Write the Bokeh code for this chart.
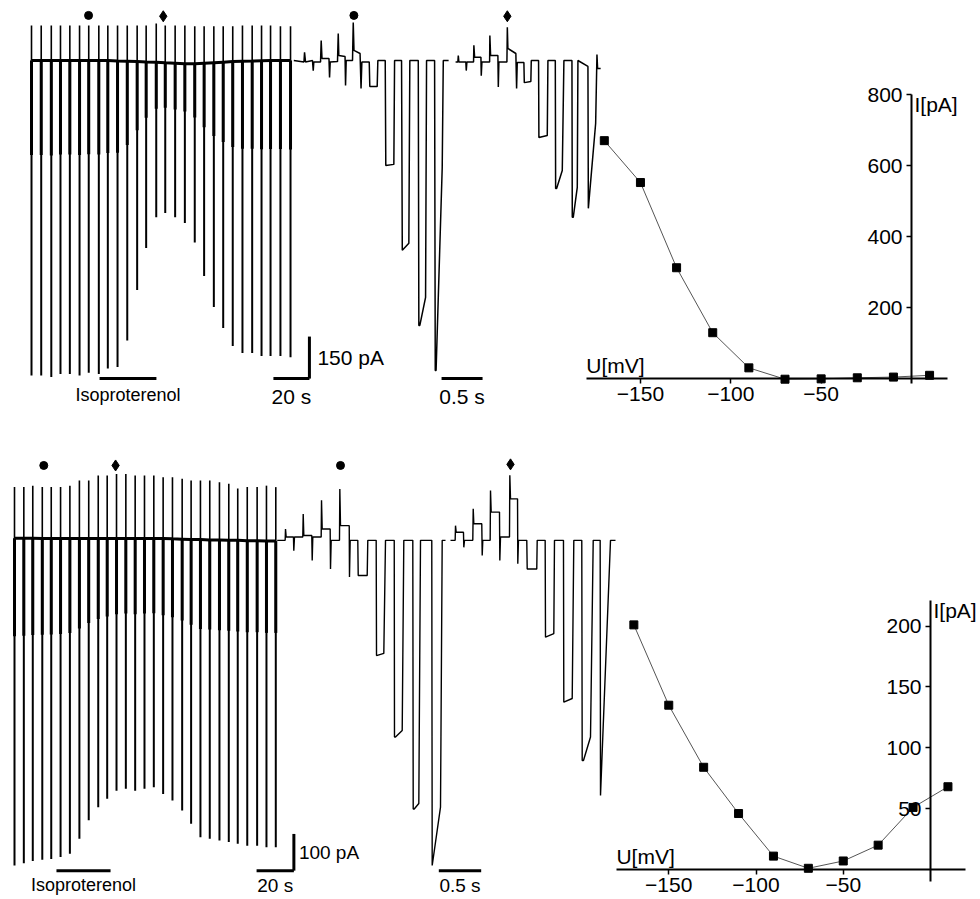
from bokeh.plotting import figure
from bokeh.models import Range1d, LinearAxis, FixedTicker, Label
from bokeh.embed import file_html
from bokeh.resources import INLINE

# ---------------- data ----------------
# Top row: overview of the slow recording (time in s, current in pA)
ov1_t = [0, 5.4, 11.0, 16.1, 21.3, 26.7, 31.8, 37.4, 42.4, 47.8, 53.2, 58.7, 63.7, 69.3,
         74.3, 79.8, 85.2, 90.7, 95.9, 101.3, 106.5, 111.8, 117.2, 122.6, 127.8, 132.8, 138.3, 143.9]
ov1_low = [-1125, -1125, -1130, -1120, -1120, -1125, -1115, -1120, -1100, -1095, -1000, -820, -670, -560,
           -545, -560, -580, -650, -770, -880, -955, -1020, -1045, -1045, -1055, -1055, -1055, -1060]
ov1_high = [125, 125, 125, 125, 125, 125, 125, 125, 125, 125, 125, 125, 125, 132,
            125, 125, 125, 122, 122, 122, 122, 122, 125, 125, 125, 125, 122, 122]
ov1_base = [0, 0, 0, 0, 0, 0, 0, 0, 0, -2, -3, -4, -5, -6,
            -8, -10, -12, -12, -10, -8, -6, -4, -3, -2, -1, 0, 0, 0]

# Top row: two single sweeps on an expanded time base (time in ms, current in pA)
zm1a_t = [0, 124, 131, 143, 228, 237, 244, 326, 334, 344, 429, 436, 444, 533, 542, 549, 625, 631, 639,
          716, 725, 734, 808, 820, 830, 920, 927, 1017, 1025, 1115, 1122, 1220, 1229, 1314, 1323, 1403,
          1415, 1518, 1525, 1537, 1607, 1619, 1717, 1725, 1735, 1810, 1823, 1888]
zm1a_i = [0, -5, 29, -5, 0, -36, -5, -5, 71, 7, 7, -61, -5, -4, 96, 18, 14, -89, 0,
          0, 136, 36, 25, -100, -5, -5, -93, -93, 0, 0, -375, -371, 0, 0, -678, -653,
          0, 0, -946, -946, -846, 0, 0, -1107, -1107, -382, 0, 0]
zm1b_t = [1973, 2001, 2006, 2013, 2098, 2103, 2111, 2192, 2196, 2205, 2282, 2286, 2294, 2388, 2391, 2400,
          2489, 2494, 2501, 2599, 2604, 2611, 2708, 2717, 2725, 2806, 2811, 2891, 2896, 2985, 2989, 3091,
          3099, 3189, 3193, 3205, 3274, 3294, 3392, 3396, 3408, 3457, 3465, 3587, 3592, 3681, 3697, 3705, 3742]
zm1b_i = [-5, -5, 18, -5, -5, -36, -5, -5, 54, 12, 12, -54, -5, -5, 89, 18,
          18, -95, -5, -5, 119, 43, 25, -100, -7, -7, -79, -75, 0, 0, -275, -268,
          0, 0, -457, -457, -393, 0, 0, -560, -560, -453, 0, -21, -528, -225, 21, -29, -29]

# Bottom row: overview
ov2_t = [0, 5.0, 9.8, 14.9, 19.7, 24.7, 29.7, 34.8, 39.8, 44.9, 49.7, 54.7, 59.7, 64.7, 69.7,
         74.7, 79.7, 84.7, 89.9, 94.7, 99.7, 104.7, 109.9, 114.9, 119.7, 124.8, 130.1, 135.1, 140.1]
ov2_low = [-891, -885, -879, -875, -873, -868, -859, -818, -768, -732, -709, -687, -682, -687, -682,
           -678, -696, -714, -741, -777, -814, -818, -823, -827, -832, -837, -837, -841, -841]
ov2_high = [140, 140, 144, 140, 140, 140, 144, 158, 158, 172, 172, 176, 176, 172, 172,
            172, 167, 167, 163, 158, 158, 158, 153, 149, 136, 140, 140, 144, 140]
ov2_base = [1, 1, 1, 0, 0, 0, 0, 0, 0, 0, 0, 0, 0, 0, 0,
            0, 0, -1, -2, -3, -3, -4, -4, -5, -5, -6, -6, -7, -7]

# Bottom row: expanded sweeps
zm2a_t = [0, 94, 98, 106, 192, 196, 204, 302, 307, 314, 408, 413, 420, 519, 523, 531, 625, 629, 637,
          735, 739, 747, 850, 853, 861, 951, 956, 1062, 1069, 1168, 1172, 1258, 1278, 1381, 1384, 1396,
          1475, 1494, 1600, 1605, 1617, 1671, 1691, 1824, 1829, 1927, 1947, 1986]
zm2a_i = [-5, -5, 26, 4, 4, -33, 4, 4, 67, 8, 8, -60, 4, 4, 104, 26, 26, -83, -5,
          -5, 135, 35, 35, -105, -5, -5, -101, -101, -5, -5, -319, -313, -5, -5, -541, -541,
          -523, -5, -5, -737, -737, -722, -5, -5, -891, -732, -5, -5]
zm2b_t = [2045, 2100, 2104, 2112, 2198, 2202, 2210, 2308, 2313, 2320, 2414, 2419, 2426, 2513, 2517, 2525,
          2623, 2627, 2635, 2741, 2745, 2753, 2836, 2839, 2847, 2945, 2950, 3063, 3068, 3162, 3166, 3264,
          3272, 3378, 3382, 3481, 3500, 3594, 3599, 3614, 3697, 3729, 3811, 3815, 3933, 3992]
zm2b_i = [-5, -5, 35, 17, 17, -24, -5, -5, 81, 40, 40, -46, -5, -5, 131, 72,
          72, -60, 4, 4, 172, 108, 108, -69, -5, -5, -83, -83, -5, -5, -269, -259,
          -5, -5, -446, -436, -5, -5, -605, -605, -541, -5, -5, -700, -5, -5]

# Markers above the sweeps that are shown expanded (circle / diamond)
ov1_mark_t = [31.7, 73.2]; ov1_mark_i = [161, 158]
zm1_mark_t = [733, 2604]; zm1_mark_i = [161, 158]
ov2_mark_t = [15.7, 54.2]; ov2_mark_i = [199, 199]
zm2_mark_t = [747, 2753]; zm2_mark_i = [199, 202]

# I-V relations
iv_v = [-170, -150, -130, -110, -90, -70, -50, -30, -10, 10]
iv1_i = [670, 552, 312, 129, 30, -2, -1, 2, 4, 9]
iv2_i = [201, 135, 84, 46, 11, 1, 7, 20, 51, 68]
iv_xticks = [-150, -100, -50]
iv1_yticks = [200, 400, 600, 800]
iv2_yticks = [50, 100, 150, 200]

# Scale bars and drug application
iso1 = (37.8, 69.4)
iso2 = (22.5, 51.5)
bar_time_s = 20
bar_zoom_ms = 500
bar_cur1 = 150
bar_cur2 = 100

# ---------------- layout ----------------
W, H = 980, 899
FONT = "Liberation Sans"


def x_range(px_at_zero, px_per_unit):
    start = -px_at_zero / px_per_unit
    return Range1d(start=start, end=start + W / px_per_unit)


def y_range(py_at_zero, px_per_unit):
    end = py_at_zero / px_per_unit
    return Range1d(start=end - H / px_per_unit, end=end)


p = figure(width=W, height=H, x_range=Range1d(0, W), y_range=Range1d(0, H),
           x_axis_type=None, y_axis_type=None, output_backend="svg",
           toolbar_location=None, min_border=0, outline_line_color=None)
p.background_fill_color = "white"
p.border_fill_color = "white"

p.extra_x_ranges = {
    "ov1": x_range(31, 1.8), "zm1": x_range(293.3, 0.082), "iv1": x_range(911, 1.807),
    "ov2": x_range(14, 1.865), "zm2": x_range(276.7, 1 / 11.8), "iv2": x_range(930, 1.745),
}
p.extra_y_ranges = {
    "tr1": y_range(60, 0.28), "iv1": y_range(378, 0.355),
    "tr2": y_range(538, 0.367), "iv2": y_range(869, 1.217),
}


def overview(t, low, high, base, xr, yr):
    kw = dict(x_range_name=xr, y_range_name=yr, line_color="black")
    p.segment(t, base, t, high, line_width=1.6, **kw)
    p.segment(t, low, t, base, line_width=2.0, **kw)
    wedge = [b + 0.3 * (l - b) for b, l in zip(base, low)]
    p.segment(t, base, t, wedge, line_width=3.0, **kw)
    p.line(t, base, line_width=3, **kw)


def label(xr, yr, x, y, text, size, align="center", baseline="top", xo=0, yo=0):
    p.add_layout(Label(x=x, y=y, x_range_name=xr, y_range_name=yr, text=text,
                       text_font=FONT, text_font_size=size, text_color="black",
                       text_align=align, text_baseline=baseline, x_offset=xo, y_offset=yo))


# --- top row traces
overview(ov1_t, ov1_low, ov1_high, ov1_base, "ov1", "tr1")
p.line(zm1a_t, zm1a_i, x_range_name="zm1", y_range_name="tr1", line_color="black", line_width=1.5)
p.line(zm1b_t, zm1b_i, x_range_name="zm1", y_range_name="tr1", line_color="black", line_width=1.5)
for xr, mt, mi in (("ov1", ov1_mark_t, ov1_mark_i), ("zm1", zm1_mark_t, zm1_mark_i)):
    p.scatter(mt[:1], mi[:1], marker="circle", size=8, color="black", x_range_name=xr, y_range_name="tr1")
    p.scatter(mt[1:], mi[1:], marker="diamond", size=11, color="black", x_range_name=xr, y_range_name="tr1")

y_bar1 = -1136
p.segment([iso1[0]], [y_bar1], [iso1[1]], [y_bar1], x_range_name="ov1", y_range_name="tr1",
          line_color="black", line_width=3)
label("ov1", "tr1", (iso1[0] + iso1[1]) / 2, y_bar1, "Isoproterenol", "18px", yo=-6)
sb1_x = 154.4
p.segment([sb1_x - bar_time_s, sb1_x], [y_bar1, y_bar1], [sb1_x, sb1_x], [y_bar1, y_bar1 + bar_cur1],
          x_range_name="ov1", y_range_name="tr1", line_color="black", line_width=3)
label("ov1", "tr1", sb1_x - bar_time_s / 2, y_bar1, "20 s", "21px", yo=-6)
label("ov1", "tr1", sb1_x, y_bar1 + bar_cur1 / 2, "150 pA", "21px", align="left", baseline="middle", xo=8)
zb1_x = 1802
p.segment([zb1_x], [y_bar1], [zb1_x + bar_zoom_ms], [y_bar1], x_range_name="zm1", y_range_name="tr1",
          line_color="black", line_width=3)
label("zm1", "tr1", zb1_x + bar_zoom_ms / 2, y_bar1, "0.5 s", "21px", yo=-6)

# --- bottom row traces
overview(ov2_t, ov2_low, ov2_high, ov2_base, "ov2", "tr2")
p.line(zm2a_t, zm2a_i, x_range_name="zm2", y_range_name="tr2", line_color="black", line_width=1.4)
p.line(zm2b_t, zm2b_i, x_range_name="zm2", y_range_name="tr2", line_color="black", line_width=1.4)
for xr, mt, mi in (("ov2", ov2_mark_t, ov2_mark_i), ("zm2", zm2_mark_t, zm2_mark_i)):
    p.scatter(mt[:1], mi[:1], marker="circle", size=8, color="black", x_range_name=xr, y_range_name="tr2")
    p.scatter(mt[1:], mi[1:], marker="diamond", size=11, color="black", x_range_name=xr, y_range_name="tr2")

y_bar2 = -905
p.segment([iso2[0]], [y_bar2], [iso2[1]], [y_bar2], x_range_name="ov2", y_range_name="tr2",
          line_color="black", line_width=3)
label("ov2", "tr2", (iso2[0] + iso2[1]) / 2, y_bar2, "Isoproterenol", "18px", yo=-4)
sb2_x = 149.8
p.segment([sb2_x - bar_time_s, sb2_x], [y_bar2, y_bar2], [sb2_x, sb2_x], [y_bar2, y_bar2 + bar_cur2],
          x_range_name="ov2", y_range_name="tr2", line_color="black", line_width=3)
label("ov2", "tr2", sb2_x - bar_time_s / 2, y_bar2, "20 s", "19px", yo=-4)
label("ov2", "tr2", sb2_x, y_bar2 + bar_cur2 / 2, "100 pA", "19px", align="left", baseline="middle", xo=5)
zb2_x = 1907
p.segment([zb2_x], [y_bar2], [zb2_x + bar_zoom_ms], [y_bar2], x_range_name="zm2", y_range_name="tr2",
          line_color="black", line_width=3)
label("zm2", "tr2", zb2_x + bar_zoom_ms / 2, y_bar2, "0.5 s", "19px", yo=-4)


# --- I-V panels
def iv_panel(name, cur, yticks, ybounds):
    kw = dict(x_range_name=name, y_range_name=name)
    p.line(iv_v, cur, line_color="#555555", line_width=1, **kw)
    p.scatter(iv_v, cur, marker="square", size=8, color="black", **kw)
    ax = LinearAxis(fixed_location=0, ticker=FixedTicker(ticks=iv_xticks), bounds=(-180, 20), **kw)
    ay = LinearAxis(fixed_location=0, ticker=FixedTicker(ticks=yticks), bounds=ybounds, **kw)
    for a in (ax, ay):
        a.axis_line_width = 2
        a.axis_line_color = "black"
        a.major_tick_line_width = 1.5
        a.major_tick_out = 5
        a.major_tick_in = 0
        a.minor_tick_out = 0
        a.minor_tick_in = 0
        a.major_label_text_font = FONT
        a.major_label_text_font_size = "21px"
        a.major_label_text_color = "black"
    ax.major_label_standoff = 3
    ay.major_label_standoff = 4
    p.add_layout(ax, "below")
    p.add_layout(ay, "left")
    label(name, name, -180, 0, "U[mV]", "21px", align="left", baseline="bottom", yo=2)
    label(name, name, 0, ybounds[1], "I[pA]", "21px", align="left", baseline="top", xo=3, yo=2)


iv_panel("iv1", iv1_i, iv1_yticks, (-14, 800))
iv_panel("iv2", iv2_i, iv2_yticks, (-10, 221))

open("out.html", "w").write(file_html(p, INLINE))
